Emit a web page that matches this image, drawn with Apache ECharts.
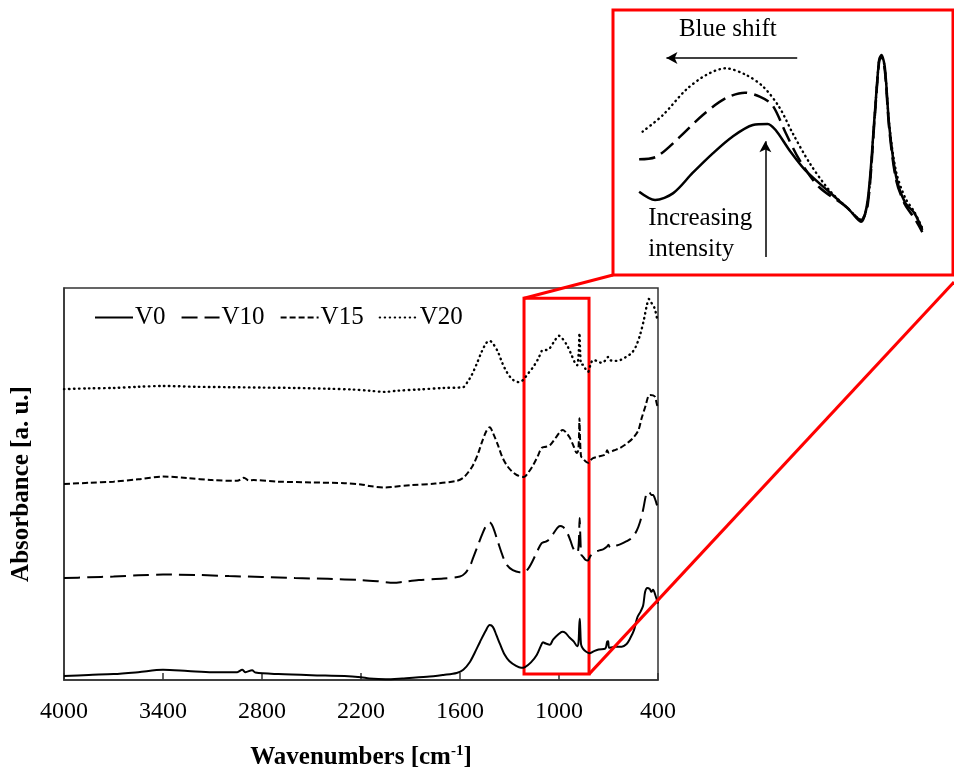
<!DOCTYPE html>
<html>
<head>
<meta charset="utf-8">
<script src="https://cdn.jsdelivr.net/npm/echarts@6/dist/echarts.min.js"></script>
<style>html,body{margin:0;padding:0;background:#fff}#c{width:954px;height:775px}</style>
</head>
<body>
<div id="c"></div>
<script>
// ---------- data (wavenumber [cm-1], absorbance [a.u., offset]) ----------
const seriesNames = ['V0', 'V10', 'V15', 'V20'];
const xTicks = [4000, 3400, 2800, 2200, 1600, 1000, 400];

const v0 = [[4000,1.0],[3850,1.3],[3700,1.5],[3550,2.0],[3400,2.6],[3250,2.3],[3100,2.0],[2950,2.0],[2920,2.6],[2900,2.0],[2860,2.5],[2840,1.9],[2700,1.5],[2500,1.2],[2300,1.0],[2200,0.7],[2150,0.4],[2050,0.2],[1950,0.4],[1800,0.8],[1700,1.3],[1620,1.8],[1580,2.6],[1540,4.6],[1510,7.0],[1479,9.7],[1445,12.5],[1420,14.0],[1400,13.5],[1380,11.5],[1358,9.2],[1330,6.5],[1300,4.8],[1260,3.6],[1230,3.1],[1206,3.3],[1170,4.5],[1135,6.4],[1110,8.7],[1097,9.6],[1080,9.3],[1055,9.0],[1036,10.3],[1000,11.8],[980,12.3],[960,12.0],[940,11.0],[910,9.8],[890,8.6],[882,9.5],[877,14.0],[874,15.6],[871,13.0],[866,9.0],[855,8.0],[835,7.2],[815,6.8],[790,7.3],[760,7.8],[720,8.0],[708,9.8],[702,9.9],[696,8.2],[660,8.5],[620,8.5],[590,9.2],[570,10.5],[545,12.8],[525,16.0],[505,17.5],[490,19.0],[478,22.5],[465,23.5],[450,23.2],[440,22.5],[430,23.0],[415,21.5],[400,19.5]];

const v10 = [[4000,26.0],[3850,26.2],[3700,26.4],[3550,26.7],[3400,26.9],[3200,26.8],[3000,26.5],[2800,26.3],[2600,26.0],[2400,25.8],[2200,25.5],[2100,25.2],[2000,24.8],[1950,25.0],[1850,25.5],[1700,25.9],[1600,26.4],[1570,27.2],[1540,29.0],[1521,31.1],[1490,34.5],[1467,37.0],[1440,39.5],[1420,40.2],[1400,39.0],[1370,35.2],[1340,31.5],[1315,29.3],[1280,28.0],[1240,27.5],[1206,27.6],[1180,28.8],[1157,30.6],[1130,33.0],[1105,34.9],[1080,35.3],[1067,35.6],[1040,37.0],[1010,38.8],[994,39.3],[975,39.0],[953,37.8],[930,35.5],[915,33.7],[895,32.5],[885,32.8],[879,36.0],[875,41.3],[871,37.0],[865,32.0],[855,31.5],[840,30.7],[826,30.5],[810,31.6],[794,32.4],[760,33.0],[730,33.4],[712,33.9],[700,34.5],[690,33.8],[660,34.2],[630,34.6],[590,35.4],[560,36.2],[530,38.0],[509,40.3],[490,43.5],[469,47.7],[455,48.0],[440,47.2],[430,47.2],[415,45.8],[406,44.6],[400,44.0]];

const v15 = [[4000,50.0],[3850,50.3],[3700,50.6],[3550,51.2],[3400,51.9],[3250,51.5],[3100,51.0],[2950,50.8],[2910,51.6],[2880,50.9],[2850,51.0],[2700,50.6],[2500,50.4],[2300,50.2],[2200,49.9],[2150,49.5],[2050,49.1],[2000,49.3],[1900,49.7],[1750,50.1],[1620,50.8],[1580,51.6],[1550,53.0],[1521,54.8],[1490,57.8],[1467,60.7],[1440,63.5],[1420,64.5],[1400,63.0],[1370,59.9],[1345,57.0],[1317,54.8],[1285,53.2],[1256,52.3],[1212,51.8],[1185,53.0],[1157,54.8],[1130,57.0],[1105,59.2],[1080,59.5],[1055,59.9],[1020,61.8],[990,63.5],[976,63.8],[955,63.0],[933,61.7],[910,59.5],[893,57.9],[884,58.5],[879,62.0],[876,66.8],[872,61.0],[866,57.0],[855,56.6],[840,55.8],[824,55.4],[810,56.0],[794,56.6],[760,57.0],[720,57.5],[708,58.6],[700,58.0],[665,58.6],[630,59.2],[590,60.3],[552,61.7],[520,63.6],[499,66.8],[475,70.0],[458,72.5],[448,72.7],[430,72.6],[418,72.2],[406,70.2],[400,69.5]];

const v20 = [[4000,74.2],[3850,74.4],[3700,74.5],[3550,74.8],[3400,75.0],[3200,74.8],[3000,74.7],[2800,74.6],[2600,74.5],[2400,74.3],[2250,74.1],[2150,73.8],[2055,73.5],[1980,73.8],[1850,74.1],[1700,74.5],[1582,74.7],[1555,76.0],[1529,77.8],[1500,80.5],[1469,83.7],[1440,86.0],[1420,86.5],[1400,85.8],[1370,83.7],[1345,81.0],[1317,78.6],[1285,76.8],[1248,76.0],[1225,76.3],[1212,76.8],[1185,78.3],[1157,79.8],[1125,82.0],[1097,84.2],[1075,84.2],[1055,84.7],[1030,86.3],[1000,87.8],[985,87.4],[953,85.5],[925,83.0],[903,80.9],[890,80.3],[880,84.0],[876,88.5],[872,84.0],[866,80.5],[855,80.4],[840,79.4],[824,78.6],[810,80.3],[794,81.6],[770,81.4],[742,80.9],[715,81.7],[703,82.4],[690,81.6],[660,81.4],[630,81.6],[595,82.4],[560,83.4],[535,85.0],[509,88.0],[485,92.0],[468,95.5],[455,97.2],[440,96.2],[430,95.7],[418,94.5],[406,92.3],[400,91.5]];

// inset (zoom of the 1200-820 cm-1 region, normalised overlay)
const insetV0 = [[1088,31.4],[1074,28.3],[1058,30.9],[1041,38.5],[1023,46.0],[1006,52.2],[988,56.6],[975,57.0],[968,54.7],[956,47.2],[942,39.6],[921,31.4],[903,24.5],[893,20.1],[887,28.3],[881,59.7],[877,81.1],[875,83.0],[872,78.6],[868,56.0],[862,37.1],[854,27.2],[846,23.4],[839,17.0]];
const insetV10 = [[1088,43.7],[1073,44.6],[1052,52.2],[1032,60.4],[1012,66.7],[995,68.8],[982,67.3],[971,64.2],[959,53.5],[947,43.4],[930,33.3],[906,25.8],[893,20.8],[887,26.4],[881,58.5],[877,80.4],[875,82.3],[872,77.4],[868,54.7],[862,35.8],[854,26.4],[846,21.5],[839,16.2]];
const insetV20 = [[1085,54.1],[1067,60.4],[1047,69.8],[1029,75.5],[1012,78.0],[994,75.5],[979,71.1],[965,63.5],[953,53.5],[938,42.2],[921,32.1],[903,24.5],[893,20.8],[887,27.2],[881,59.2],[877,81.1],[875,82.6],[872,78.1],[868,56.6],[862,38.9],[854,29.1],[846,23.8],[839,17.7]];

// red zoom box on the main chart (wavenumber / absorbance)
const zoomBox = {x0: 1212, x1: 818, y0: 1.5, y1: 97.4};

// ---------- chart ----------
const FONT = "'Liberation Serif','Times New Roman',serif";
const chart = echarts.init(document.getElementById('c'), null, {renderer: 'canvas'});

const styles = [
  {type: 'solid', width: 2},
  {type: [16, 7], width: 2},
  {type: [6, 3], width: 2},
  {type: [0.5, 4.5], width: 2.4, cap: 'round'}
];
const mainData = [v0, v10, v15, v20];
const insetData = [insetV0, insetV10, null, insetV20];

const series = [];
mainData.forEach((d, i) => {
  series.push({
    name: seriesNames[i], type: 'line', xAxisIndex: 0, yAxisIndex: 0,
    data: d, symbol: 'none', smooth: 0.3, animation: false,
    lineStyle: Object.assign({color: '#000'}, styles[i]),
    itemStyle: {color: '#000'}
  });
});
insetData.forEach((d, i) => {
  if (!d) return;
  series.push({
    type: 'line', xAxisIndex: 1, yAxisIndex: 1, data: d, symbol: 'none', smooth: 0.3,
    animation: false, lineStyle: Object.assign({color: '#000'}, styles[i], {width: i === 3 ? 2.4 : 2.5}), z: 3
  });
});
// red rectangle
series.push({
  type: 'line', xAxisIndex: 0, yAxisIndex: 0, data: [], symbol: 'none', silent: true, z: 5,
  markArea: {silent: true, itemStyle: {color: 'rgba(0,0,0,0)', borderColor: '#ff0000', borderWidth: 3},
    data: [[{coord: [zoomBox.x0, zoomBox.y0]}, {coord: [zoomBox.x1, zoomBox.y1]}]]}
});
// inset arrows
series.push({
  type: 'line', xAxisIndex: 1, yAxisIndex: 1, data: [], symbol: 'none', silent: true,
  markLine: {silent: true, symbol: ['none', 'arrow'], symbolSize: [9, 11], label: {show: false},
    lineStyle: {color: '#000', width: 1.5, type: 'solid'}, animation: false,
    data: [
      [{coord: [949, 81.9]}, {coord: [1064, 81.9]}],
      [{coord: [977, 6.8]}, {coord: [977, 50.5]}]
    ]}
});

chart.setOption({
  backgroundColor: '#fff',
  animation: false,
  grid: [
    {left: 64, top: 288, width: 594, height: 392, show: true, borderColor: '#333', borderWidth: 1.5},
    {left: 613, top: 10, width: 340, height: 265, show: true, borderColor: '#ff0000', borderWidth: 3, backgroundColor: '#fff'}
  ],
  legend: {
    data: seriesNames, left: 94, top: 305, padding: 0, itemWidth: 38, itemHeight: 14, itemGap: 15,
    itemStyle: {color: 'rgba(0,0,0,0)', borderWidth: 0, opacity: 0},
    textStyle: {fontFamily: FONT, fontSize: 25, color: '#000', padding: [0, 0, 0, -3]}
  },
  xAxis: [
    {
      type: 'value', gridIndex: 0, min: 400, max: 4000, inverse: true,
      axisLine: {show: true, onZero: false, lineStyle: {color: '#333', width: 1.5}},
      axisTick: {show: true, inside: true, length: 7, customValues: xTicks, lineStyle: {color: '#333', width: 1.5}},
      axisLabel: {customValues: xTicks, formatter: v => String(v), fontFamily: FONT, fontSize: 24, color: '#000', margin: 20},
      splitLine: {show: false},
      name: '{a|Wavenumbers [cm}{s|-1}{a|]}', nameLocation: 'middle', nameGap: 64,
      nameTextStyle: {rich: {
        a: {fontFamily: FONT, fontSize: 25, fontWeight: 'bold', color: '#000'},
        s: {fontFamily: FONT, fontSize: 15, fontWeight: 'bold', color: '#000', padding: [0, 0, 12, 0]}
      }}
    },
    {type: 'value', gridIndex: 1, min: 812, max: 1111, inverse: true, show: false}
  ],
  yAxis: [
    {
      type: 'value', gridIndex: 0, min: 0, max: 100,
      axisLine: {show: true, lineStyle: {color: '#333', width: 1.5}},
      axisTick: {show: false}, axisLabel: {show: false}, splitLine: {show: false},
      name: 'Absorbance [a. u.]', nameLocation: 'middle', nameGap: 30,
      nameTextStyle: {fontFamily: FONT, fontSize: 25, fontWeight: 'bold', color: '#000'}
    },
    {type: 'value', gridIndex: 1, min: 0, max: 100, show: false}
  ],
  series: series
});

// connector lines and inset texts, placed through the axes' own scales
function px(grid, pt) { return chart.convertToPixel({gridIndex: grid}, pt); }
const boxTL = px(0, [zoomBox.x0, zoomBox.y1]);
const boxBR = px(0, [zoomBox.x1, zoomBox.y0]);
const insBL = px(1, [1111, 0]);
const insBR = px(1, [812, 0]);
const tBlue = px(1, [1010, 92.5]);
const tInc = px(1, [1080, 21.5]);
const tInt = px(1, [1080, 9.8]);
const tStyle = {fontFamily: FONT, fontSize: 25, fill: '#000'};
chart.setOption({
  graphic: [
    {type: 'line', shape: {x1: boxTL[0], y1: boxTL[1], x2: insBL[0], y2: insBL[1]}, style: {stroke: '#ff0000', lineWidth: 3}, z: 100},
    {type: 'line', shape: {x1: boxBR[0], y1: boxBR[1], x2: insBR[0] + 1, y2: insBR[1] + 7}, style: {stroke: '#ff0000', lineWidth: 3}, z: 100},
    {type: 'text', x: tBlue[0], y: tBlue[1], style: Object.assign({text: 'Blue shift', align: 'center', verticalAlign: 'middle'}, tStyle), z: 100},
    {type: 'text', x: tInc[0], y: tInc[1], style: Object.assign({text: 'Increasing', align: 'left', verticalAlign: 'middle'}, tStyle), z: 100},
    {type: 'text', x: tInt[0], y: tInt[1], style: Object.assign({text: 'intensity', align: 'left', verticalAlign: 'middle'}, tStyle), z: 100}
  ]
});
</script>
</body>
</html>
